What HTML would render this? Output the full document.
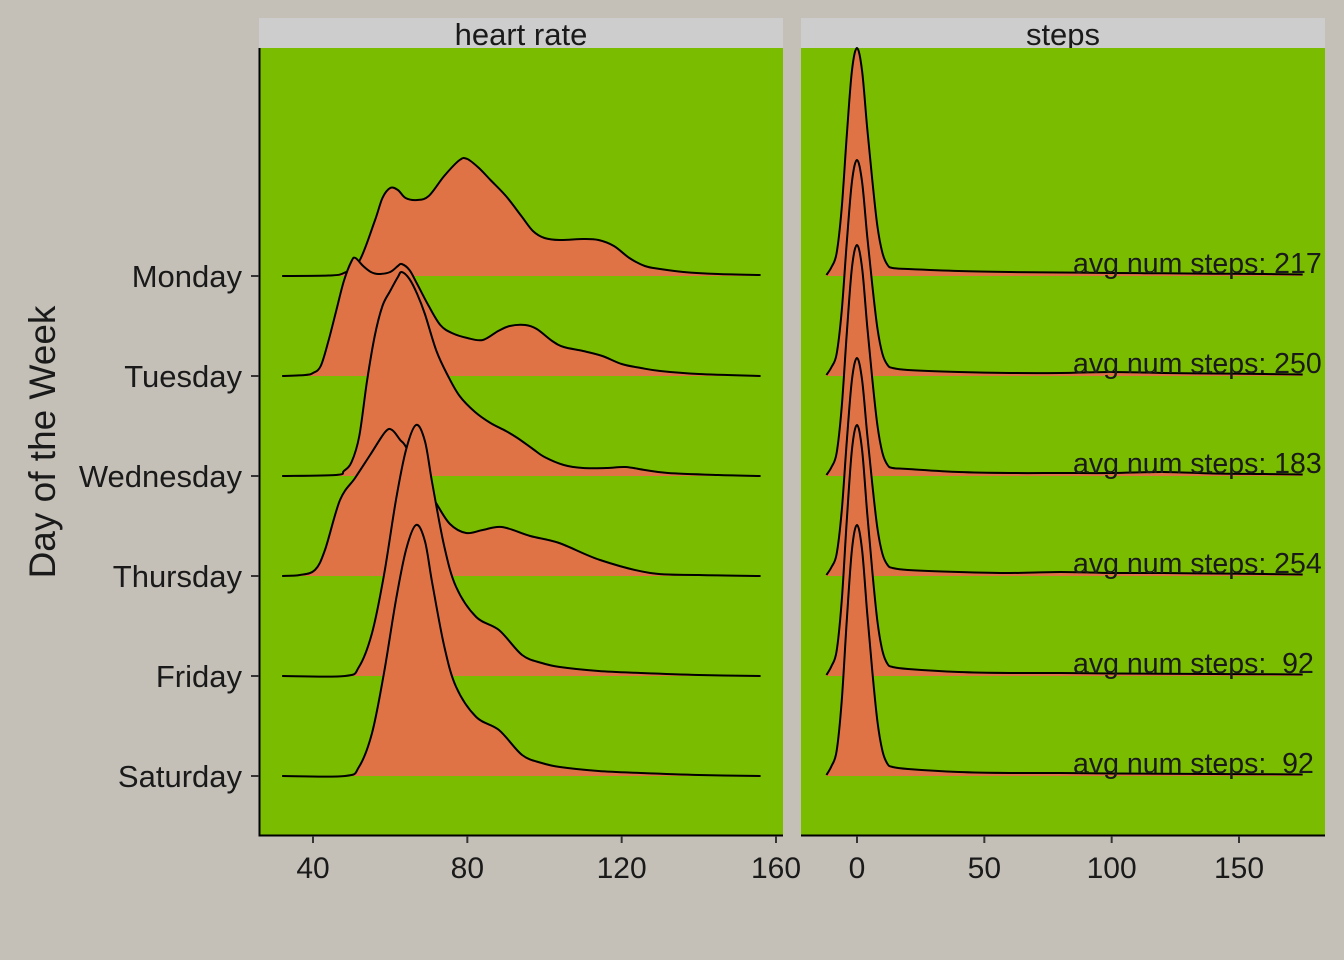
<!DOCTYPE html>
<html><head><meta charset="utf-8"><style>
body{margin:0;background:#C4C0B8;overflow:hidden;}
svg{display:block;}
svg text{font-family:"Liberation Sans",sans-serif;fill:#1a1a1a;white-space:pre;}
</style></head><body>
<svg width="1344" height="960" viewBox="0 0 1344 960" xmlns="http://www.w3.org/2000/svg">
<rect x="0" y="0" width="1344" height="960" fill="#C4C0B8"/>
<g id="left"></g>
<g id="right"></g>
<text x="45" y="442" font-size="37" text-anchor="middle" transform="rotate(-90 45 442)" dominant-baseline="middle">Day of the Week</text>
</svg>
<script>
const days = ["Monday","Tuesday","Wednesday","Thursday","Friday","Saturday"];
const hrTicks = [40,80,120,160];
const stepTicks = [0,50,100,150];
const avgSteps = ["217","250","183","254","92","92"];
// heart rate x values and ridge heights per day
const hrMonX = [32,44,48,52,56,58,60,62,64,67,70,74,78,80,83,86,90,94,97,100,104,110,114,118,122,126,130,136,145,156];
const hrMonY = [0,0.5,3,15,55,78,88,86,78,76,80,100,116,117,108,96,80,60,45,38,36,37,36,30,18,10,7,4,2,1];
const hrTueX = [32,38,40,42,44,46,48,50,51,53,55,57,60,62,63,65,67,70,73,76,80,84,88,91,95,98,102,105,110,115,120,125,130,140,156];
const hrTueY = [0,1,3,10,35,65,95,115,118,110,104,102,104,110,112,106,92,70,51,43,38,36,45,50,51,47,35,29,25,20,12,8,5,2,0];
const hrWedX = [32,46,48,50,52,54,56,58,60,62,63,65,67,69,72,75,78,82,86,90,93,97,100,105,110,116,121,126,132,145,156];
const hrWedY = [0,1,5,14,40,95,140,170,185,199,204,197,182,162,125,100,80,64,53,45,38,27,19,11,8,8,9,6,3,1,0];
const hrThuX = [32,36.6,40.5,43.1,47,50.9,54.8,58.7,60.5,62.6,64.1,67.8,71.9,75.5,79.7,84,89,96.3,103.8,114.4,127.4,140,156];
const hrThuY = [0,1,6,26,76,98,121,144,146,136,129,100,73,52,43,46,49,40,33,16,3,1,0];
const hrFriX = [32,48.3,51.9,55.3,58.4,61.5,64.1,66.7,69,70.9,74,77.1,82.3,88.2,94.2,99.3,104,114,125,140,156];
const hrFriY = [0,0,9,43,101,176,226,251,235,193,130,89,59,46,21,13,9,5,3,1,0];
const hrSatX = hrFriX;
const hrSatY = [0,0,9,43,103,176,226,251,235,193,130,89,59,46,21,13,9,5,3,1,0];
// steps grid and ridge heights per day
const stepX = [-12,-10,-8,-6,-4,-2,0,2,4,6,8,10,12,14,20,40,60,80,100,120,140,160,175];
const stepMon = [1,9,23,68,141,205,228,205,148,96,50,23,11,8,7,5,4,3.5,3,2.7,2.3,2,1.5];
const stepTue = [1,9,22,65,134,194,216,194,140,91,48,22,11,8,6,4,3,3,4,3,2.5,2,1.5];
const stepWed = [1,9,23,69,143,208,231,208,150,97,51,23,11,8,7,4,3,3,3,4,2.5,2,1.5];
const stepThu = [1,9,22,65,135,196,218,196,142,92,48,22,11,8,6,4,3,4,3,3,2.5,2,1.5];
const stepFri = [1,10,25,75,156,226,251,226,163,105,55,25,12,9,7,4,3,3,2.5,2.3,2,1.8,1.5];
const stepSat = [1,10,25,75,156,226,251,226,163,105,55,25,12,9,7,4,3,3,2.5,2.3,2,1.8,1.5];

const hrSeries = [[hrMonX,hrMonY],[hrTueX,hrTueY],[hrWedX,hrWedY],[hrThuX,hrThuY],[hrFriX,hrFriY],[hrSatX,hrSatY]];
const stepSeries = [stepMon,stepTue,stepWed,stepThu,stepFri,stepSat];

const NS="http://www.w3.org/2000/svg";
const xHR = v => 313 + (v-40)*(776-313)/120;
const xST = v => 857 + v*(1239-857)/150;
const yBase = i => 276 + i*100;
const yH = (i,h) => yBase(i) - h;

function mk(tag, attrs, parent){const e=document.createElementNS(NS,tag);for(const k in attrs)e.setAttribute(k,attrs[k]);parent.appendChild(e);return e;}
function smooth(pts){
  let d=`M${pts[0][0]},${pts[0][1]}`;
  for(let i=0;i<pts.length-1;i++){
    const p0=pts[Math.max(0,i-1)],p1=pts[i],p2=pts[i+1],p3=pts[Math.min(pts.length-1,i+2)];
    const t=6;
    d+=` C${p1[0]+(p2[0]-p0[0])/t},${p1[1]+(p2[1]-p0[1])/t} ${p2[0]-(p3[0]-p1[0])/t},${p2[1]-(p3[1]-p1[1])/t} ${p2[0]},${p2[1]}`;
  }
  return d;
}
function panel(g, x0, x1, title){
  const strip=mk('rect',{x:x0,y:18,width:x1-x0,height:30,fill:'#CDCDCD'},g);
  
  
  const t=mk('text',{x:(x0+x1)/2,y:45,'font-size':31,'text-anchor':'middle'},g);t.textContent=title;
  
  
  const bg=mk('rect',{x:x0,y:48,width:x1-x0,height:787,fill:'#7ABD00'},g);
  
  
}
const L=document.getElementById('left'), R=document.getElementById('right');
panel(L,259,783,'heart rate');
panel(R,801,1325,'steps');

hrSeries.forEach((s,i)=>{
  const pts=s[0].map((v,j)=>[xHR(v),yH(i,s[1][j])]);
  const line=smooth(pts);
  const f=mk('path',{d:line+` L${pts[pts.length-1][0]},${yBase(i)} L${pts[0][0]},${yBase(i)} Z`,fill:'#E07345',stroke:'none'},L);
  
  
  const p=mk('path',{d:line,fill:'none',stroke:'#000','stroke-width':2},L);
  
  
});
stepSeries.forEach((s,i)=>{
  const pts=stepX.map((v,j)=>[xST(v),yH(i,s[j])]);
  const line=smooth(pts);
  const f=mk('path',{d:line+` L${pts[pts.length-1][0]},${yBase(i)} L${pts[0][0]},${yBase(i)} Z`,fill:'#E07345',stroke:'none'},R);
  
  
  const p=mk('path',{d:line,fill:'none',stroke:'#000','stroke-width':2},R);
  
  
  const t=mk('text',{x:1073,y:yBase(i)-3,'font-size':28.5,'text-anchor':'start'},R);
  t.textContent='avg num steps: '+(avgSteps[i].length<3?'\u00A0':'')+avgSteps[i];
  
  
});
// axes
const axL=mk('path',{d:'M259.5,48 V835.5 H783',stroke:'#000','stroke-width':2,fill:'none'},L);


const axR=mk('path',{d:'M801,835.5 H1325',stroke:'#000','stroke-width':2,fill:'none'},R);


days.forEach((d,i)=>{
  const tk=mk('line',{x1:251,x2:259,y1:yBase(i),y2:yBase(i),stroke:'#333','stroke-width':2},L);
  
  
  const t=mk('text',{x:242,y:yBase(i)+11,'font-size':31,'text-anchor':'end'},L);t.textContent=d;
  
  
});
hrTicks.forEach(v=>{
  const tk=mk('line',{x1:xHR(v),x2:xHR(v),y1:836,y2:843,stroke:'#333','stroke-width':2},L);
  
  
  const t=mk('text',{x:xHR(v),y:878,'font-size':30,'text-anchor':'middle'},L);t.textContent=v;
  
  
});
stepTicks.forEach(v=>{
  const tk=mk('line',{x1:xST(v),x2:xST(v),y1:836,y2:843,stroke:'#333','stroke-width':2},R);
  
  
  const t=mk('text',{x:xST(v),y:878,'font-size':30,'text-anchor':'middle'},R);t.textContent=v;
  
  
});
</script>
</body></html>
